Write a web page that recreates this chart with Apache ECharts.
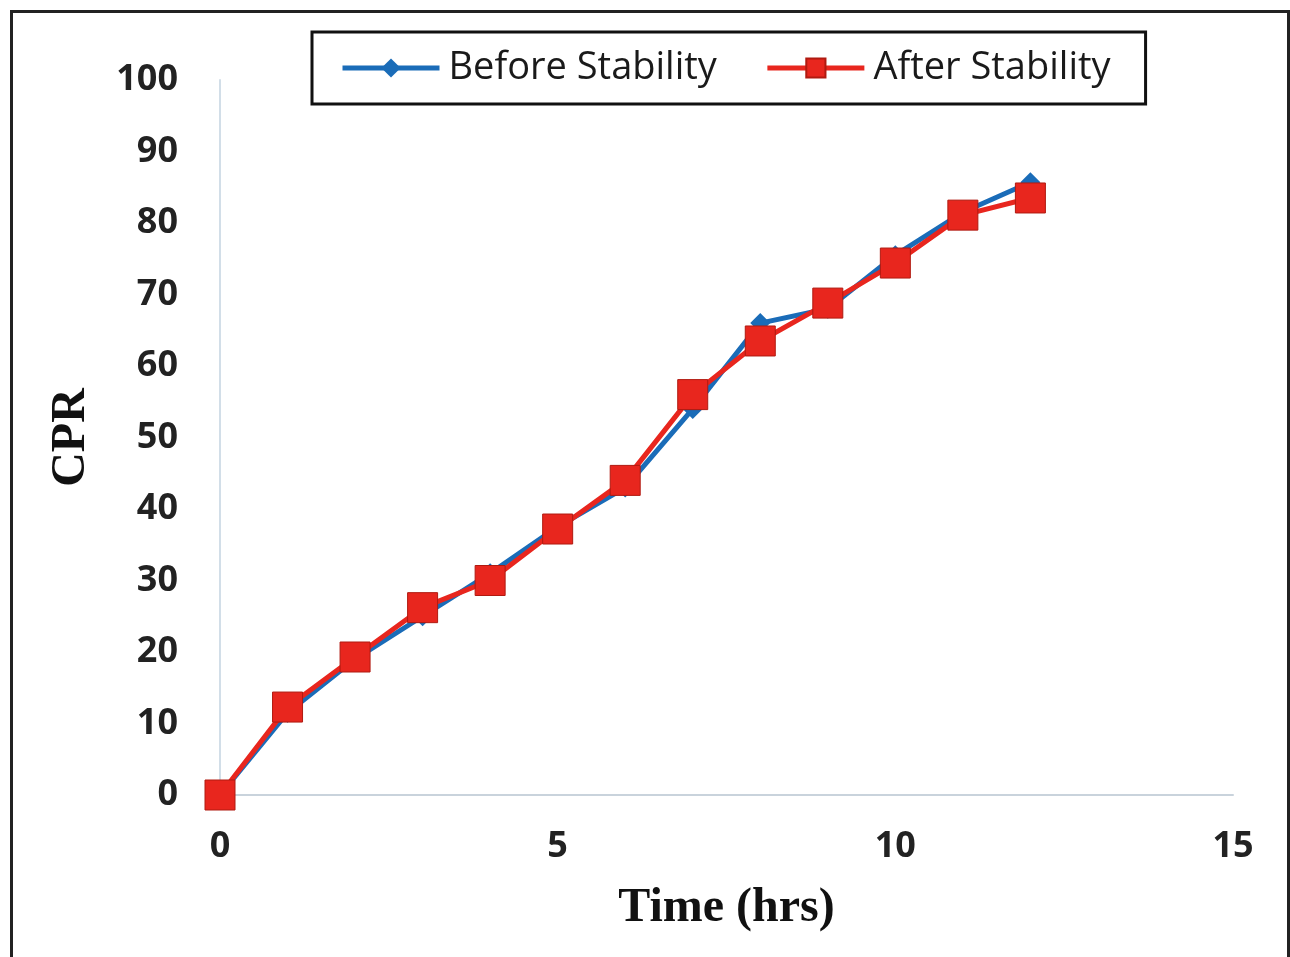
<!DOCTYPE html>
<html>
<head>
<meta charset="utf-8">
<script src="https://cdn.jsdelivr.net/npm/echarts@6/dist/echarts.min.js"></script>
<style>html,body{margin:0;padding:0;background:#fff;}#chart{width:1290px;height:957px;}</style>
</head>
<body>
<div id="chart"></div>
<script>
const timeHrs = [0, 1, 2, 3, 4, 5, 6, 7, 8, 9, 10, 11, 12];
const beforeStability = [0, 11.5, 19, 25, 31, 37.5, 43, 54, 66, 68, 75.5, 81.5, 85.7];
const afterStability = [0, 12.3, 19.3, 26.2, 30, 37.2, 44, 56, 63.5, 68.8, 74.4, 81.1, 83.5];
const seriesNames = ['Before Stability', 'After Stability'];

const chart = echarts.init(document.getElementById('chart'));
const pair = (xs, ys) => xs.map((x, i) => [x, ys[i]]);
chart.setOption({
  backgroundColor: '#fff',
  animation: false,
  graphic: [{
    type: 'rect', left: 9, top: 9,
    shape: { width: 1277, height: 960 },
    style: { fill: 'none', stroke: '#222', lineWidth: 3 }
  }],
  grid: { left: 220, right: 57, top: 80, bottom: 162 },
  legend: {
    left: 312, top: 32, width: 830, height: 76,
    padding: [17, 35, 17, 28],
    borderColor: '#111', borderWidth: 3,
    itemWidth: 97, itemHeight: 24, itemGap: 48,
    lineStyle: { width: 5 },
    textStyle: { fontSize: 38, fontFamily: 'Open Sans', color: '#1a1a1a', padding: [0, 0, 0, 4] },
    data: seriesNames
  },
  xAxis: {
    type: 'value', min: 0, max: 15, interval: 5,
    name: 'Time (hrs)', nameLocation: 'middle', nameGap: 90,
    nameTextStyle: { fontSize: 48, fontFamily: 'Liberation Serif', fontWeight: 'bold', color: '#111' },
    axisLine: { lineStyle: { color: '#c9d3dc', width: 2 } },
    axisTick: { show: false },
    splitLine: { show: false },
    axisLabel: { fontSize: 36, fontWeight: 'bold', fontFamily: 'Open Sans', color: '#222', margin: 34 }
  },
  yAxis: {
    type: 'value', min: 0, max: 100, interval: 10,
    name: 'CPR', nameLocation: 'middle', nameGap: 124, nameRotate: 90,
    nameTextStyle: { fontSize: 48, fontFamily: 'Liberation Serif', fontWeight: 'bold', color: '#111' },
    axisLine: { show: true, lineStyle: { color: '#d2dee8', width: 2 } },
    axisTick: { show: false },
    splitLine: { show: false },
    axisLabel: { fontSize: 36, fontWeight: 'bold', fontFamily: 'Open Sans', color: '#222', margin: 42 }
  },
  series: [
    {
      name: seriesNames[0], type: 'line', data: pair(timeHrs, beforeStability),
      symbol: 'diamond', symbolSize: 20,
      lineStyle: { color: '#1a6cb8', width: 5 },
      itemStyle: { color: '#1a6cb8' }
    },
    {
      name: seriesNames[1], type: 'line', data: pair(timeHrs, afterStability),
      symbol: 'rect', symbolSize: 30,
      lineStyle: { color: '#e8261e', width: 5 },
      itemStyle: { color: '#e8261e', borderColor: '#b01a10', borderWidth: 1 }
    }
  ]
});
</script>
</body>
</html>
